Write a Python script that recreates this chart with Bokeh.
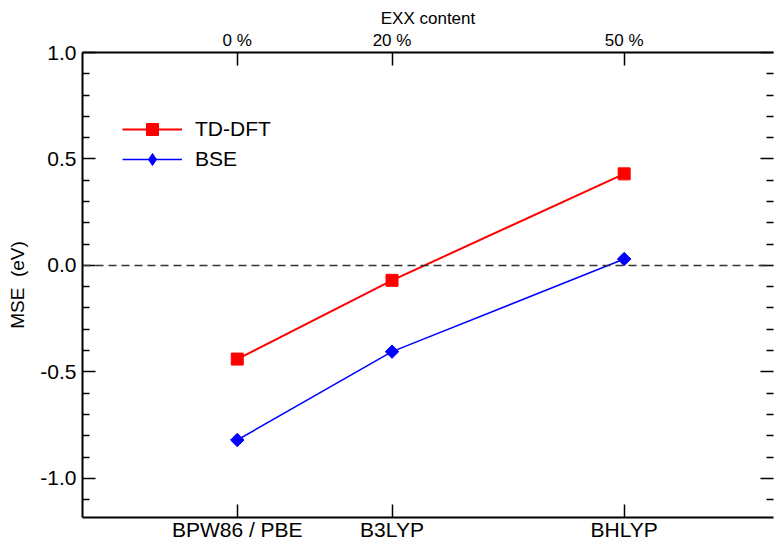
import math
from bokeh.plotting import figure
from bokeh.models import (Range1d, LinearAxis, FixedTicker, CustomJSTickFormatter,
                          Span, Legend, LegendItem, ColumnDataSource)
from bokeh.embed import file_html
from bokeh.resources import INLINE

# ---- data ----
exx_content = [0, 20, 50]
functionals = ["BPW86 / PBE", "B3LYP", "BHLYP"]
exx_labels = ["0 %", "20 %", "50 %"]
tddft_mse = [-0.44, -0.07, 0.43]
bse_mse = [-0.82, -0.405, 0.03]
y_major = [-1.0, -0.5, 0.0, 0.5, 1.0]
y_minor = [-1.1, -0.9, -0.8, -0.7, -0.6, -0.4, -0.3, -0.2, -0.1,
           0.1, 0.2, 0.3, 0.4, 0.6, 0.7, 0.8, 0.9]

FONT = "Liberation Sans"

p = figure(output_backend="svg", toolbar_location=None,
           width=775, height=543,
           x_range=Range1d(-20, 69.3), y_range=Range1d(-1.184, 1.0),
           x_axis_location=None, y_axis_location=None,
           min_border_left=82, min_border_top=52, min_border_right=2,
           min_border_bottom=23)
p.outline_line_color = None
p.xgrid.visible = False
p.ygrid.visible = False
p.background_fill_color = "white"
p.border_fill_color = "white"


def style_axis(ax):
    ax.axis_line_color = "black"
    ax.axis_line_width = 2
    ax.major_tick_line_color = "black"
    ax.major_tick_line_width = 1.5
    ax.minor_tick_line_color = "black"
    ax.minor_tick_line_width = 1.5
    ax.major_tick_in = 13
    ax.major_tick_out = 0
    ax.minor_tick_in = 7
    ax.minor_tick_out = 0
    ax.major_label_text_font = FONT
    ax.major_label_text_color = "black"
    ax.axis_label_text_font = FONT
    ax.axis_label_text_font_style = "normal"
    ax.axis_label_text_color = "black"


# left axis
yl = LinearAxis(ticker=FixedTicker(ticks=y_major, minor_ticks=y_minor),
                formatter=CustomJSTickFormatter(code="return tick.toFixed(1);"),
                axis_label="MSE\u00a0 (eV)")
style_axis(yl)
yl.major_label_text_font_size = "21px"
yl.major_label_standoff = 6
yl.axis_label_text_font_size = "19px"
yl.axis_label_standoff = 9
p.add_layout(yl, "left")

# right axis (ticks only)
yr = LinearAxis(ticker=FixedTicker(ticks=y_major, minor_ticks=y_minor),
                formatter=CustomJSTickFormatter(code="return '';"))
style_axis(yr)
yr.axis_line_color = None
yr.major_label_standoff = 0
p.add_layout(yr, "right")

# bottom axis
xb = LinearAxis(ticker=FixedTicker(ticks=exx_content, minor_ticks=[]),
                major_label_overrides={x: lab for x, lab in zip(exx_content, functionals)})
style_axis(xb)
xb.major_label_text_font_size = "21px"
xb.major_label_standoff = 0
p.add_layout(xb, "below")

# top axis
xt = LinearAxis(ticker=FixedTicker(ticks=exx_content, minor_ticks=[]),
                major_label_overrides={x: lab for x, lab in zip(exx_content, exx_labels)},
                axis_label="EXX content")
style_axis(xt)
xt.major_label_text_font_size = "17px"
xt.major_label_standoff = 3
xt.axis_label_text_font_size = "17px"
xt.axis_label_standoff = 0
p.add_layout(xt, "above")

# zero line
p.add_layout(Span(location=0, dimension="width", line_color="#333333",
                  line_width=1.5, line_dash="8 5"))

src = ColumnDataSource(dict(x=exx_content, tddft=tddft_mse, bse=bse_mse))

l1 = p.line("x", "tddft", source=src, line_color="#ff0000", line_width=2)
s1 = p.scatter("x", "tddft", source=src, marker="square", size=12,
               fill_color="#ff0000", line_color="#ff0000")
l2 = p.line("x", "bse", source=src, line_color="#0000ff", line_width=1.5)
s2 = p.scatter("x", "bse", source=src, marker="square", angle=math.pi / 4, size=9.5,
               fill_color="#0000ff", line_color="#0000ff")
# legend-only diamond glyph (legend ignores marker rotation)
s2_leg = p.scatter("x", "bse", source=src, marker="diamond", size=18,
                   fill_color="#0000ff", line_color="#0000ff", visible=False)

legend = Legend(items=[LegendItem(label="TD-DFT", renderers=[l1, s1]),
                       LegendItem(label="BSE", renderers=[l2, s2_leg])],
                location=(40, 343), orientation="vertical",
                glyph_width=60, glyph_height=30, label_height=30,
                label_standoff=13, spacing=0, padding=0, margin=0,
                border_line_color=None, background_fill_alpha=0,
                label_text_font=FONT, label_text_font_size="21px",
                label_text_color="black", click_policy="none")
p.add_layout(legend, "center")

open("out.html", "w").write(file_html(p, INLINE))
